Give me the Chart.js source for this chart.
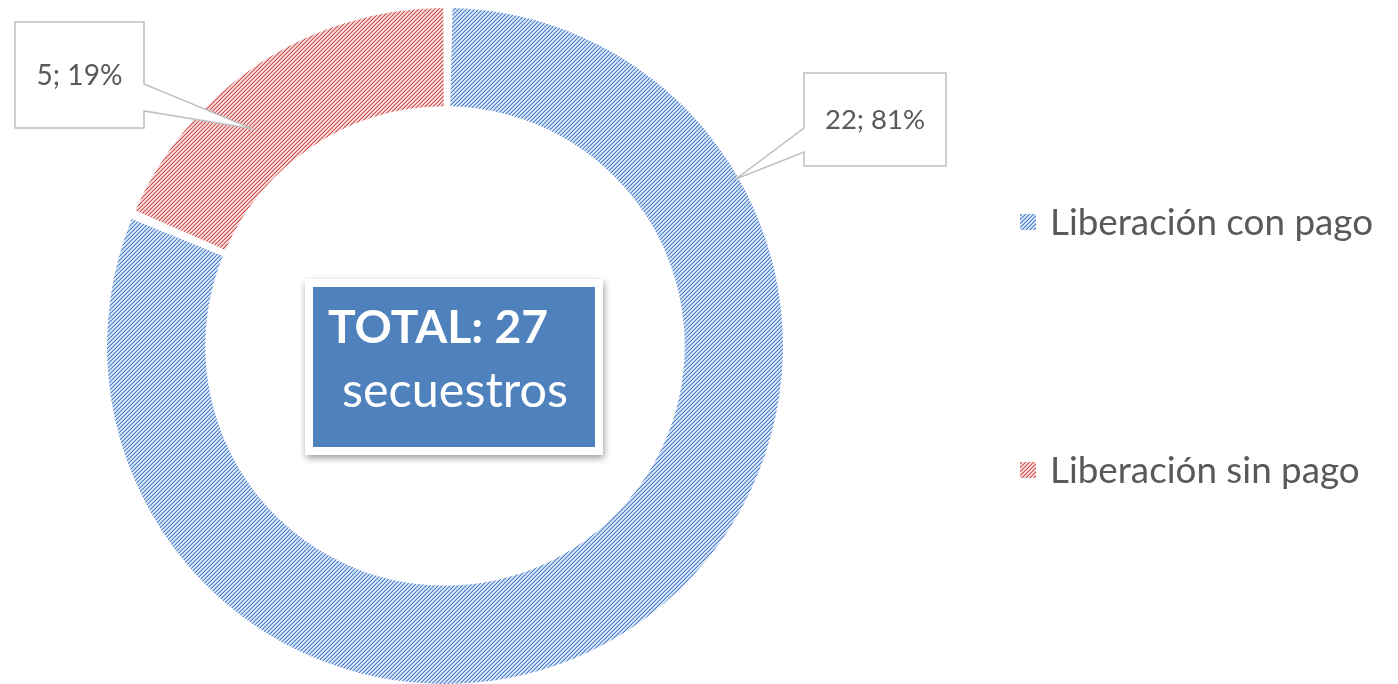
<!DOCTYPE html>
<html>
<head>
<meta charset="utf-8">
<script src="https://cdn.jsdelivr.net/npm/chart.js@4.4.0/dist/chart.umd.min.js"></script>
<style>
    html, body { margin: 0; padding: 0; background: #fff; }
    #wrap { position: relative; width: 1398px; height: 684px; }
</style>
</head>
<body>
<div id="wrap"><canvas id="donut"></canvas></div>
<script>
// Chart data
const categories = ['Liberación con pago', 'Liberación sin pago'];
const kidnappings = [22, 5];
const centerCaption = 'secuestros';

// Colours (line colour, mid tone, light background) per category
const lineColors = ['#4a80cc', '#cc4f4c'];
const midColors = ['#9fbde9', '#eca6a5'];
const lightColors = ['#dae6f8', '#f8dada'];

const FONT = 'Lato, "Open Sans", sans-serif';
const TEXT_GREY = '#595959';

// Diagonal hatch like the Excel pattern fill
function makeHatch(ctx, bg, mid, fg) {
    const tile = document.createElement('canvas');
    tile.width = 4;
    tile.height = 4;
    const t = tile.getContext('2d');
    for (let y = 0; y < 4; y++) {
        for (let x = 0; x < 4; x++) {
            const d = (x + y) % 4;
            t.fillStyle = d === 3 ? fg : (d === 2 ? mid : bg);
            t.fillRect(x, y, 1, 1);
        }
    }
    return ctx.createPattern(tile, 'repeat');
}

// Pick a font size so the text has the wanted width
function fitFont(ctx, text, weight, width) {
    ctx.font = weight + ' 100px ' + FONT;
    const size = 100 * width / ctx.measureText(text).width;
    return weight + ' ' + size.toFixed(1) + 'px ' + FONT;
}

// Callout boxes: where the box sits, where its pointer leaves the box,
// and where on the arc the pointer ends (fraction of angle / of ring width)
const callouts = [
    { box: [804, 73, 142, 93], side: 'left', attach: [55, 79], arcPos: 0.205, ringPos: 1.0, textW: 100 },
    { box: [15, 22, 129, 106], side: 'right', attach: [62, 89], arcPos: 0.375, ringPos: 0.55, textW: 86 }
];

const total = kidnappings.reduce((a, b) => a + b, 0);

function valueLabel(i) {
    return kidnappings[i] + '; ' + Math.round(kidnappings[i] / total * 100) + '%';
}

const overlayPlugin = {
    id: 'overlay',
    afterDatasetsDraw(chart) {
        const ctx = chart.ctx;
        const meta = chart.getDatasetMeta(0);
        const arcs = meta.data;
        const cx = arcs[0].x;
        const cy = arcs[0].y;
        const patterns = chart.data.datasets[0].backgroundColor;

        // Callouts
        callouts.forEach((c, i) => {
            const a = arcs[i].getProps(['startAngle', 'endAngle', 'innerRadius', 'outerRadius'], true);
            const ang = a.startAngle + (a.endAngle - a.startAngle) * c.arcPos;
            const r = a.innerRadius + (a.outerRadius - a.innerRadius) * c.ringPos;
            const ax = cx + Math.cos(ang) * r;
            const ay = cy + Math.sin(ang) * r;
            const [bx, by, bw, bh] = c.box;

            ctx.save();
            ctx.beginPath();
            if (c.side === 'left') {
                ctx.moveTo(bx, by);
                ctx.lineTo(bx + bw, by);
                ctx.lineTo(bx + bw, by + bh);
                ctx.lineTo(bx, by + bh);
                ctx.lineTo(bx, by + c.attach[1]);
                ctx.lineTo(ax, ay);
                ctx.lineTo(bx, by + c.attach[0]);
            } else {
                ctx.moveTo(bx, by);
                ctx.lineTo(bx + bw, by);
                ctx.lineTo(bx + bw, by + c.attach[0]);
                ctx.lineTo(ax, ay);
                ctx.lineTo(bx + bw, by + c.attach[1]);
                ctx.lineTo(bx + bw, by + bh);
                ctx.lineTo(bx, by + bh);
            }
            ctx.closePath();
            ctx.fillStyle = '#fff';
            ctx.fill();
            ctx.lineWidth = 1.5;
            ctx.strokeStyle = '#bfbfbf';
            ctx.stroke();

            const label = valueLabel(i);
            ctx.font = fitFont(ctx, label, 'normal', c.textW);
            ctx.fillStyle = TEXT_GREY;
            ctx.textAlign = 'center';
            ctx.textBaseline = 'middle';
            ctx.fillText(label, bx + bw / 2, by + bh / 2 + 1);
            ctx.restore();
        });

        // Centre box with the total
        ctx.save();
        ctx.shadowColor = 'rgba(0,0,0,0.4)';
        ctx.shadowBlur = 7;
        ctx.shadowOffsetX = 1;
        ctx.shadowOffsetY = 3;
        ctx.fillStyle = '#fff';
        ctx.fillRect(cx - 140, cy - 67, 298, 176);
        ctx.restore();
        ctx.save();
        ctx.fillStyle = '#4f81bd';
        ctx.fillRect(cx - 132, cy - 59, 282, 160);
        ctx.fillStyle = '#fff';
        ctx.textBaseline = 'alphabetic';
        ctx.textAlign = 'left';
        const totalText = 'TOTAL: ' + total;
        ctx.font = fitFont(ctx, totalText, 'bold', 220);
        ctx.fillText(totalText, cx - 117, cy - 3);
        ctx.font = fitFont(ctx, centerCaption, 'normal', 226);
        ctx.fillText(centerCaption, cx - 103, cy + 61);
        ctx.restore();

        // Legend on the right
        ctx.save();
        const legendY = [cy - 124, cy + 124];
        chart.data.labels.forEach((lab, i) => {
            ctx.fillStyle = patterns[i];
            ctx.fillRect(1020, legendY[i] - 8, 16, 16);
            ctx.font = fitFont(ctx, categories[0], 'normal', 323);
            ctx.fillStyle = TEXT_GREY;
            ctx.textBaseline = 'middle';
            ctx.textAlign = 'left';
            ctx.fillText(lab, 1050, legendY[i] + 1);
        });
        ctx.restore();
    }
};

const canvas = document.getElementById('donut');
const ctx = canvas.getContext('2d');
const hatches = categories.map((_, i) => makeHatch(ctx, lightColors[i], midColors[i], lineColors[i]));

new Chart(ctx, {
    type: 'doughnut',
    data: {
        labels: categories,
        datasets: [{
            data: kidnappings,
            backgroundColor: hatches,
            borderWidth: 0,
            spacing: 5
        }]
    },
    options: {
        responsive: true,
        maintainAspectRatio: false,
        animation: false,
        cutout: '70.7%',
        layout: {
            padding: { left: 107, right: 615, top: 8, bottom: 0 }
        },
        plugins: {
            legend: { display: false },
            tooltip: { enabled: false }
        }
    },
    plugins: [overlayPlugin]
});
</script>
</body>
</html>
